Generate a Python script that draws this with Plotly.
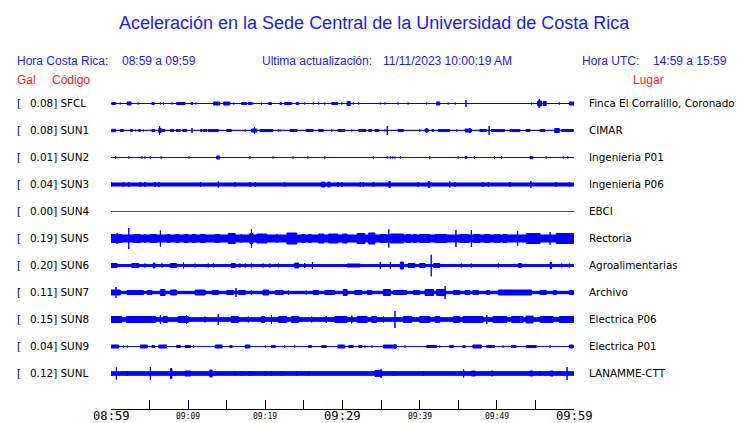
import plotly.graph_objects as go

# ---------------- data ----------------
codes = ["SFCL", "SUN1", "SUN2", "SUN3", "SUN4", "SUN5", "SUN6", "SUN7", "SUN8", "SUN9", "SUNL"]
gal = ["0.08", "0.08", "0.01", "0.04", "0.00", "0.19", "0.20", "0.11", "0.15", "0.04", "0.12"]
places = ["Finca El Corralillo, Coronado", "CIMAR", "Ingenieria P01", "Ingenieria P06", "EBCI",
          "Rectoria", "Agroalimentarias", "Archivo", "Electrica P06", "Electrica P01", "LANAMME-CTT"]
trace_colors = ["blue", "blue", "blue", "blue", "red", "blue", "blue", "blue", "blue", "blue", "blue"]

# background noise half-amplitude per station (trace units, 27 units = station spacing)
noise = [0.5, 0.6, 0.5, 2.0, 0.5, 4.0, 1.4, 1.7, 2.3, 0.5, 2.3]

# events: (start minute, end minute, half amplitude) minutes after 08:59
ev_SFCL = [(0.1,0.6,1.5),(1.2,1.2,1.5),(2.1,2.6,2),(3.5,3.5,1.5),(5.3,5.6,1.5),(6.4,6.4,1.5),(6.8,6.8,1.5),
           (7.9,7.9,1.5),(8.5,9.6,1.5),(10.4,10.6,1.5),(11.0,11.0,1.5),(13.3,14.1,2),(14.6,15.4,2),(15.9,15.9,1.5),
           (16.9,17.6,1.5),(17.8,18.2,1.5),(18.4,18.4,1.5),(19.5,19.5,1.5),(20.4,20.8,1.5),(21.9,22.1,1.5),
           (22.5,23.4,1.5),(24.0,24.3,1.5),(25.1,25.1,1.5),(26.2,26.2,1.5),(26.9,26.9,1.5),(27.7,27.7,1.5),
           (28.6,29.4,1.5),(29.9,29.9,1.5),(30.6,31.0,2.5),(31.4,31.4,1.5),(32.1,32.1,1.5),(34.9,34.9,1.5),
           (35.5,35.5,1.5),(37.2,37.2,1.5),(38.5,38.5,1.5),(40.9,40.9,1.5),(42.2,42.6,2),(43.7,43.7,1.5),
           (44.6,44.6,1.5),(46.0,46.0,4),(51.5,51.5,1),(54.5,54.5,1.5),(55.5,55.5,5),(55.3,55.8,3),
           (56.0,56.4,2.5),(58.1,58.1,1.5),(59.4,60,2)]
ev_SUN1 = [(0,0.6,1.7),(1.2,1.6,1.5),(2.5,2.8,1.5),(3.2,3.2,1.5),(3.6,3.8,1.5),(4.2,4.2,1.5),(5.3,5.7,1.5),
           (6.3,6.3,5),(6.2,6.5,2.5),(6.6,7.0,1.5),(7.7,8.1,1.5),(8.5,9.0,1.5),(9.3,9.8,1.5),(10.5,10.5,3),
           (11.6,11.8,1.5),(12.0,12.4,1.5),(12.6,13.9,1.5),(15.0,15.6,1.5),(17.4,17.4,1.5),(18.2,18.9,2),
           (18.6,18.6,4),(19.3,21.0,1.5),(21.7,21.7,1.5),(21.9,21.9,1.5),(23.2,24.1,1.5),(25.3,26.2,1.5),
           (26.9,27.5,1.5),(28.6,28.6,1.5),(29.4,30.3,1.5),(31.2,31.2,1.5),(32.1,33.0,1.5),(33.4,33.8,1.5),
           (34.2,34.7,1.5),(35.5,35.5,1.5),(35.8,35.8,5),(37.2,37.9,1.5),(40.0,40.0,1.5),(40.7,41.1,2),
           (40.9,40.9,3),(41.6,41.8,1.5),(42.4,43.9,1.5),(44.8,44.8,1.5),(45.9,46.7,2),(46.5,46.5,3),
           (47.8,48.7,1.5),(49.0,49.0,5),(49.3,51.0,1.5),(51.7,53.0,1.5),(53.8,54.3,1.5),(55.6,56.2,1.5),
           (57.5,58.1,2.5),(58.4,59.9,1.5)]
ev_SUN2 = [(0.6,0.6,1.5),(2.3,2.3,1.5),(4.0,4.0,1.5),(4.4,4.4,1.5),(5.1,5.1,1.5),(6.5,6.5,1.5),(10.1,10.1,1.5),
           (13.7,14.1,2),(18.0,18.0,1.5),(21.0,21.0,1.5),(23.6,23.6,1.5),(25.5,25.5,1.5),(27.7,27.7,1.5),
           (34.0,34.0,1.5),(35.8,35.8,1.5),(36.2,36.2,1.5),(36.5,36.5,1.5),(36.8,36.8,1.5),(37.5,37.5,1.5),
           (41.3,41.3,1.5),(45.0,45.0,1.5),(45.9,46.1,1.5),(47.1,47.1,1.5),(49.7,49.7,1.5),(50.6,50.6,1.5),
           (54.3,54.7,1.5),(56.4,56.4,1.5),(58.6,58.6,1.5),(59.2,59.2,1.5)]
ev_SUN3 = [(0,0,3),(1.6,1.6,3),(2.3,2.3,3),(3.8,3.8,3),(4.4,4.4,3),(5.7,5.7,3),(6.2,6.2,3),(11.6,11.6,3),
           (13.9,13.9,3.5),(16.1,16.1,3),(18.0,18.0,3),(18.7,18.7,3),(22.5,22.5,3),(27.3,27.7,3),(28.1,28.4,3),
           (29.4,29.4,3),(29.9,29.9,3),(32.3,32.3,3),(32.7,32.7,3),(34.0,34.0,3),(36.0,36.2,3.5),(39.8,39.8,3),
           (41.1,41.3,3.5),(43.9,43.9,3.5),(44.6,44.6,3),(48.2,48.2,3),(48.9,48.9,3),(51.7,51.7,3),
           (54.4,54.4,4),(57.7,57.7,3),(59.4,59.4,3)]
ev_SUN4 = []
ev_SUN5 = [(0,1.4,4.5),(0.8,0.8,6),(2.3,2.3,11),(2.9,3.8,4.5),(4.4,4.4,5),(5.1,5.9,4.5),(6.4,6.4,8.5),
           (7.3,7.6,4.5),(8.4,8.8,4.5),(9.5,10.0,4.5),(10.5,11.0,4.5),(11.6,12.2,4.5),(13.5,14.1,4.5),
           (15.2,16.1,5.5),(16.9,16.9,5),(18.0,18.4,5.5),(18.2,18.2,10),(18.9,20.2,5),(21.5,21.5,5),
           (22.8,24.1,6),(24.7,25.2,4.5),(25.6,26.0,4.5),(26.9,27.6,5),(28.2,29.4,5),(30.0,30.6,5),
           (31.9,32.9,5.5),(33.4,34.2,6),(34.9,35.7,4.5),(36.0,36.0,9.5),(36.2,37.9,5),(38.3,38.8,4.5),
           (39.2,39.6,4.5),(40.0,41.3,4.5),(42.0,43.5,4.5),(44.7,44.7,9),(45.2,46.3,4.5),(46.7,46.7,9),
           (47.0,47.8,4.5),(48.4,49.1,4.5),(49.7,50.4,4.5),(50.8,51.3,4.5),(52.7,52.7,8),(53.8,55.6,5.5),
           (56.9,56.9,7),(57.7,60,5.5)]
ev_SUN6 = [(0,0.8,2.5),(2.7,3.6,2.5),(4.4,4.4,2.5),(5.5,5.7,3),(6.6,6.6,2.5),(7.7,8.5,2.5),(9.4,9.4,3.5),
           (10.9,10.9,2.5),(12.6,12.6,2.5),(13.3,13.3,2.5),(15.6,16.1,2.5),(16.7,16.7,2.5),(17.4,17.4,2.5),
           (18.2,18.2,2.5),(19.7,19.7,2.5),(20.6,20.6,2.5),(21.7,21.7,2.5),(23.8,24.3,3),(25.1,25.1,3),
           (26.1,26.1,4),(30.6,32.3,2),(34.9,34.9,4),(36.2,36.2,4),(37.5,37.9,4),(38.5,39.4,2.5),(40.0,40.7,2.5),
           (41.5,41.5,11.3),(41.8,42.6,2.5),(45.4,45.4,2.5),(46.7,46.7,2.5),(50.2,50.2,2.5),(52.8,53.2,2.5),
           (56.9,57.1,3.5),(58.4,58.4,2.5),(59.4,59.4,2.5)]
ev_SUN7 = [(0,1.2,3),(0.65,0.65,6),(2.1,4.2,2.5),(4.7,5.3,2.5),(6.4,7.0,3.5),(7.7,8.5,3),(10.9,12.2,3),
           (13.1,13.9,2.5),(15.0,15.9,2.5),(16.2,16.2,5),(16.5,17.4,2.5),(18.2,18.2,2.5),(19.7,20.4,3),
           (21.3,22.3,2.5),(23.0,23.0,2.5),(25.3,25.3,2.5),(26.2,26.9,2.5),(27.7,29.0,2.5),(30.1,30.6,3.5),
           (31.6,32.5,2.5),(33.2,33.8,2.5),(35.3,36.2,3.5),(36.6,38.3,2.5),(39.2,40.0,2.5),(40.7,41.8,3.5),
           (42.2,43.3,3.5),(43.3,43.3,7),(44.4,45.2,2.5),(45.9,46.5,2.5),(46.9,47.6,2.5),(48.7,49.1,2.5),
           (50.2,54.5,3),(55.6,56.4,2.5),(57.3,57.7,2.5),(59.4,59.9,2.5)]
ev_SUN8 = [(0,1.4,3.5),(2.0,5.8,3.5),(6.4,6.4,5),(6.8,7.3,3.5),(8.7,10.0,3.5),(9.8,9.8,5),(12.2,12.2,3.5),
           (13.9,13.9,6),(15.6,16.5,3.5),(17.8,17.8,3.5),(19.5,19.9,3.5),(20.8,20.8,5),(21.7,22.8,3.5),
           (23.4,24.3,3.5),(26.0,26.0,3.5),(27.9,27.9,4),(29.0,30.6,3.5),(31.2,31.2,4.5),(31.9,33.2,3.5),
           (33.8,34.4,3.5),(35.3,35.3,3.5),(36.8,36.8,9),(37.9,39.0,3.5),(40.0,41.3,3.5),(42.0,42.6,3.5),
           (44.4,45.2,3.5),(45.6,48.2,3.5),(48.7,48.7,5),(49.5,51.3,3.5),(51.9,53.4,3.5),(53.8,54.7,4),
           (55.6,57.3,3.5),(58.1,60,3.5)]
ev_SUN9 = [(0,1.0,2),(1.6,1.6,1.5),(2.1,2.1,1.5),(3.8,4.7,2),(5.3,5.7,1.5),(6.2,7.2,2),(8.5,9.0,1.5),
           (9.6,10.3,1.5),(10.7,10.7,1.5),(13.5,14.4,2),(15.4,15.7,1.5),(17.4,18.0,2),(20.0,20.0,1.5),
           (20.8,21.3,1.5),(22.5,22.5,1.5),(23.8,23.8,1.5),(25.6,26.0,1.5),(27.3,27.9,1.5),(29.4,30.3,2),
           (30.8,31.4,1.5),(32.1,32.5,1.5),(32.9,32.9,1.5),(33.8,33.8,1.5),(35.3,37.0,2),(36.8,36.8,3),
           (38.1,38.1,1.5),(40.9,42.2,1.5),(42.6,42.6,1.5),(43.9,44.4,1.5),(45.6,45.9,1.5),(46.9,48.0,2),
           (48.7,49.7,1.5),(50.8,50.8,1.5),(51.9,52.5,1.5),(53.8,55.1,1.5),(56.9,56.9,1.5),(59.4,59.9,2)]
ev_SUNL = [(0,0,3),(0.7,0.7,6.5),(2.1,2.1,3),(5.1,5.1,7),(7.7,7.9,5.5),(8.3,8.3,3),(9.6,10.3,3),(12.8,13.1,4),
           (16.1,16.1,3),(17.0,17.0,3),(17.9,17.9,3),(18.2,18.2,3),(20.0,20.0,3),(20.8,20.8,3),(22.1,22.1,3),
           (24.1,24.1,3),(25.6,25.6,3),(34.2,35.1,3.5),(35.0,35.0,5),(36.6,36.6,3),(40.5,40.5,3),
           (45.7,45.7,4.5),(46.7,47.2,3),(49.3,49.5,3),(54.3,54.7,3),(55.6,55.6,3),(56.9,57.3,3),(59.1,59.1,7)]
events = [ev_SFCL, ev_SUN1, ev_SUN2, ev_SUN3, ev_SUN4, ev_SUN5, ev_SUN6, ev_SUN7, ev_SUN8, ev_SUN9, ev_SUNL]

tick_minutes = [0, 10, 20, 30, 40, 50, 60]
tick_labels = ["08:59", "09:09", "09:19", "09:29", "09:39", "09:49", "09:59"]
tick_major = [True, False, False, True, False, False, True]

title_text = "Aceleración en la Sede Central de la Universidad de Costa Rica"
hora_cr = "08:59 a 09:59"
ultima = "11/11/2023 10:00:19 AM"
hora_utc = "14:59 a 15:59"

# ---------------- figure ----------------
W, H = 740, 423
ML, MR, MT, MB = 111, 166, 90, 14
PW, PH = W - ML - MR, H - MT - MB
ROW0, ROWSTEP = 103.5, 27        # pixel row of first station, spacing
UNIT = ROWSTEP                   # trace units per station spacing

def xp(px):
    return (px - ML) / PW

def yp(py):
    return (H - MB - py) / PH

fig = go.Figure()
for i, code in enumerate(codes):
    xs, ys = [], []
    b = max(noise[i] - 0.5, 0) / UNIT
    xs += [0, 60, 60, 0, 0, None]
    ys += [i - b, i - b, i + b, i + b, i - b, None]
    for t0, t1, a in events[i]:
        h = max(a - 0.5, 0) / UNIT
        xs += [t0, t1, t1, t0, t0, None]
        ys += [i - h, i - h, i + h, i + h, i - h, None]
    fig.add_trace(go.Scatter(x=xs, y=ys, mode="lines", fill="toself",
                             fillcolor=trace_colors[i],
                             line=dict(color=trace_colors[i], width=1),
                             hoverinfo="skip", showlegend=False))

ann = []
blue = "#1a1aff"
red = "#ff1a1a"
hfont = "Liberation Sans, Arial, sans-serif"
ann.append(dict(text=title_text, x=xp(374.5), y=yp(23), xanchor="center", yanchor="middle",
                font=dict(family=hfont, size=18, color=blue)))
for txt, px in [("Hora Costa Rica:", 15), (hora_cr, 120), ("Ultima actualización:", 260),
                (ultima, 381), ("Hora UTC:", 580), (hora_utc, 651)]:
    ann.append(dict(text=txt, x=xp(px), y=yp(61), xanchor="left", yanchor="middle",
                    font=dict(family=hfont, size=12, color=blue)))
for txt, px in [("Gal", 15), ("Código", 50), ("Lugar", 631)]:
    ann.append(dict(text=txt, x=xp(px), y=yp(80), xanchor="left", yanchor="middle",
                    font=dict(family=hfont, size=12, color=red)))

lfont = dict(family="DejaVu Sans", size=10.4, color="black")
for i, code in enumerate(codes):
    py = 103 + ROWSTEP * i
    ann.append(dict(text="[", x=xp(15), y=yp(py), xanchor="left", yanchor="middle", font=lfont))
    ann.append(dict(text=f"{gal[i]}] {code}", x=xp(27.5), y=yp(py), xanchor="left", yanchor="middle", font=lfont))
    ann.append(dict(text=places[i], x=xp(587), y=yp(py), xanchor="left", yanchor="middle", font=lfont))

for m, lab, major in zip(tick_minutes, tick_labels, tick_major):
    ann.append(dict(text=lab, x=m, xref="x", y=yp(416), yref="paper",
                    xanchor="center", yanchor="middle",
                    font=dict(family="DejaVu Sans Mono", size=12.2 if major else 8, color="black")))

for a in ann:
    a.setdefault("xref", "paper")
    a.setdefault("yref", "paper")
    a["showarrow"] = False

fig.update_layout(
    width=W, height=H, margin=dict(l=ML, r=MR, t=MT, b=MB, pad=0),
    paper_bgcolor="white", plot_bgcolor="white",
    annotations=ann, showlegend=False,
    xaxis=dict(range=[0, 60], showgrid=False, zeroline=False, showline=True, linecolor="black",
               linewidth=1, ticks="inside", ticklen=9, tickcolor="black", tickwidth=1,
               tickvals=list(range(0, 61, 5)), showticklabels=False, fixedrange=True),
    yaxis=dict(range=[(H - MB - ROW0) / ROWSTEP, (MT - ROW0) / ROWSTEP], visible=False,
               showgrid=False, zeroline=False, fixedrange=True),
)
fig.write_html("out.html", config={"displayModeBar": False},
               post_script="document.body.style.margin='0';document.body.style.overflow='hidden';")
